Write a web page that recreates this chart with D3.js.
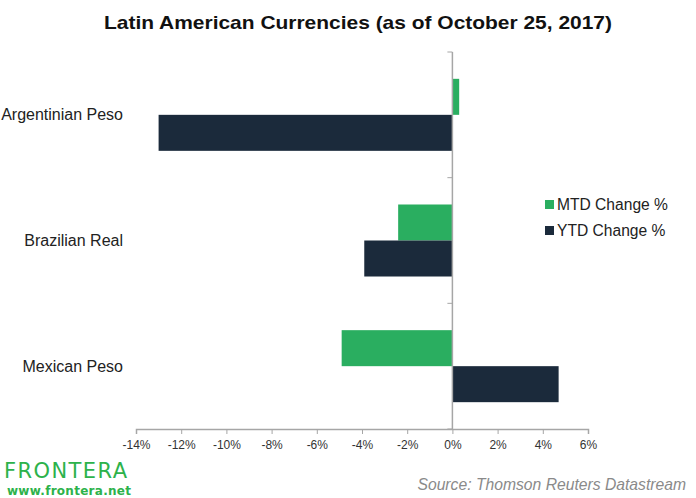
<!DOCTYPE html>
<html>
<head>
<meta charset="utf-8">
<script src="https://cdn.jsdelivr.net/npm/d3@7"></script>
<style>
  html, body { margin: 0; padding: 0; background: #fff; }
  svg { display: block; }
</style>
</head>
<body>
<svg id="chart" width="696" height="498"></svg>
<script>
const categories = ["Argentinian Peso", "Brazilian Real", "Mexican Peso"];
const seriesNames = ["MTD Change %", "YTD Change %"];
const mtdValues = [0.3, -2.4, -4.9];
const ytdValues = [-13.0, -3.9, 4.7];
const xTicks = [-14, -12, -10, -8, -6, -4, -2, 0, 2, 4, 6];
const colors = ["#2AAE60", "#1B2A3B"];

const svg = d3.select("#chart");
const margin = { left: 136, right: 108, top: 52, bottom: 69 };
const W = 696, H = 498;

const x = d3.scaleLinear().domain([-14, 6]).range([margin.left, W - margin.right]);
const y = d3.scaleBand().domain(categories).range([margin.top, H - margin.bottom])
  .paddingInner(0.427).paddingOuter(0.2135);
const ySub = d3.scaleBand().domain(seriesNames).range([0, y.bandwidth()]);

const data = categories.map((c, i) => ({ cat: c, vals: [mtdValues[i], ytdValues[i]] }));

// title
svg.append("text")
  .attr("x", 358).attr("y", 29)
  .attr("text-anchor", "middle")
  .attr("font-family", "Liberation Sans, Arial, sans-serif")
  .attr("font-weight", "bold")
  .attr("font-size", 19)
  .attr("fill", "#111")
  .attr("textLength", 508)
  .attr("lengthAdjust", "spacingAndGlyphs")
  .text("Latin American Currencies (as of October 25, 2017)");

// bars
const g = svg.append("g");
data.forEach(d => {
  d.vals.forEach((v, j) => {
    g.append("rect")
      .attr("x", x(Math.min(0, v)))
      .attr("width", Math.abs(x(v) - x(0)))
      .attr("y", y(d.cat) + ySub(seriesNames[j]))
      .attr("height", ySub.bandwidth())
      .attr("fill", colors[j]);
  });
});

// x axis
const xAxis = d3.axisBottom(x).tickValues(xTicks).tickFormat(d => d + "%").tickSizeOuter(0).tickSize(5).tickPadding(6);
const gx = svg.append("g").attr("transform", `translate(0,${H - margin.bottom})`).call(xAxis);
gx.select(".domain").attr("stroke", "#a6a6a6").attr("stroke-width", 1.5);
gx.selectAll(".tick line").attr("stroke", "#a6a6a6");
gx.selectAll(".tick text").attr("font-family", "Liberation Sans, Arial, sans-serif").attr("font-size", 12).attr("fill", "#333");

// y axis at zero
const yTickPos = [margin.top, ...categories.slice(1).map(c => y(c) - y.step() * y.paddingInner() / 2), H - margin.bottom];
const gy = svg.append("g");
gy.append("line").attr("x1", x(0)).attr("x2", x(0)).attr("y1", margin.top).attr("y2", H - margin.bottom)
  .attr("stroke", "#a6a6a6").attr("stroke-width", 1.5);
yTickPos.forEach(p => {
  gy.append("line").attr("x1", x(0) - 5).attr("x2", x(0)).attr("y1", p).attr("y2", p)
    .attr("stroke", "#a6a6a6").attr("stroke-width", 1);
});

// category labels
svg.append("g").selectAll("text").data(categories).join("text")
  .attr("x", 123)
  .attr("y", d => y(d) + y.bandwidth() / 2)
  .attr("dy", "0.35em")
  .attr("text-anchor", "end")
  .attr("font-family", "Liberation Sans, Arial, sans-serif")
  .attr("font-size", 16)
  .attr("fill", "#222")
  .text(d => d);

// legend
const leg = svg.append("g");
seriesNames.forEach((s, i) => {
  const ly = 205 + i * 26;
  leg.append("rect").attr("x", 545).attr("y", ly - 5).attr("width", 9).attr("height", 9).attr("fill", colors[i]);
  leg.append("text").attr("x", 557).attr("y", ly).attr("dy", "0.35em")
    .attr("font-family", "Liberation Sans, Arial, sans-serif").attr("font-size", 15.6).attr("fill", "#222")
    .text(s);
});

// branding
svg.append("text").attr("x", 4).attr("y", 478)
  .attr("font-family", "DejaVu Sans, sans-serif").attr("font-size", 21)
  .attr("fill", "#2DB24B").attr("textLength", 123).attr("lengthAdjust", "spacing")
  .text("FRONTERA");
svg.append("text").attr("x", 7).attr("y", 495)
  .attr("font-family", "DejaVu Sans, sans-serif").attr("font-size", 12).attr("font-weight", "600")
  .attr("fill", "#2DB24B").attr("textLength", 124).attr("lengthAdjust", "spacing")
  .text("www.frontera.net");

// source
svg.append("text").attr("x", 686).attr("y", 490)
  .attr("text-anchor", "end")
  .attr("font-family", "Liberation Sans, Arial, sans-serif").attr("font-size", 15.7).attr("font-style", "italic")
  .attr("fill", "#8a8a8a")
  .text("Source: Thomson Reuters Datastream");
</script>
</body>
</html>
